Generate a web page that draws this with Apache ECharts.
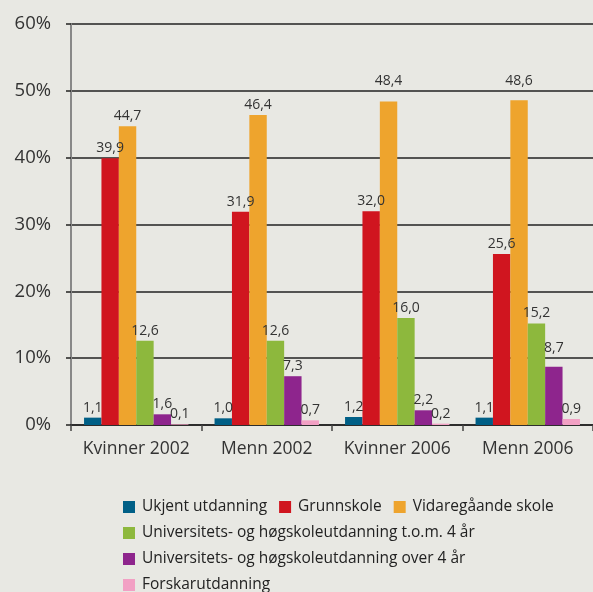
<!DOCTYPE html>
<html>
<head>
<meta charset="utf-8">
<script src="https://cdn.jsdelivr.net/npm/echarts@6/dist/echarts.min.js"></script>
<style>
  html, body { margin: 0; padding: 0; background: #e8e8e3; }
  #chart { width: 593px; height: 592px; }
</style>
</head>
<body>
<div id="chart"></div>
<script>
var categories = ['Kvinner 2002', 'Menn 2002', 'Kvinner 2006', 'Menn 2006']
var seriesNames = [
  'Ukjent utdanning',
  'Grunnskole',
  'Vidaregåande skole',
  'Universitets- og høgskoleutdanning t.o.m. 4 år',
  'Universitets- og høgskoleutdanning over 4 år',
  'Forskarutdanning'
]
var ukjent = [1.1, 1.0, 1.2, 1.1]
var grunnskole = [39.9, 31.9, 32.0, 25.6]
var vidaregaande = [44.7, 46.4, 48.4, 48.6]
var univKort = [12.6, 12.6, 16.0, 15.2]
var univLang = [1.6, 7.3, 2.2, 8.7]
var forskar = [0.1, 0.7, 0.2, 0.9]
var colors = ['#005f86', '#d0151f', '#eea42d', '#8db83d', '#8e258d', '#f2a0c4']

var font = '"Open Sans", sans-serif'
var values = [ukjent, grunnskole, vidaregaande, univKort, univLang, forskar]
var gridHeight = 401
var pxPerUnit = gridHeight / 60

var myChart = echarts.init(document.getElementById('chart'))

// labels that would sit on a gridline get lifted above it
function labelDistance(v) {
  var rest = v % 10
  if (rest >= 8) return (10 - rest) * pxPerUnit + 3
  return 3
}

var series = values.map(function(d, i) {
  return {
    name: seriesNames[i],
    type: 'bar',
    data: d.map(function(v) {
      return { value: v, label: { distance: labelDistance(v) } }
    }),
    barGap: '0%',
    barCategoryGap: '20%',
    itemStyle: { color: colors[i] },
    label: {
      show: true,
      position: 'top',
      color: '#333',
      fontSize: 14,
      fontFamily: font,
      formatter: function(p) { return p.value.toFixed(1).replace('.', ',') }
    }
  }
})

function legendRow(names, top) {
  return {
    data: names,
    left: 123,
    top: top,
    padding: 0,
    orient: 'horizontal',
    itemWidth: 12,
    itemHeight: 12,
    itemGap: 12,
    icon: 'rect',
    selectedMode: false,
    textStyle: { fontSize: 15.5, color: '#222', fontFamily: font, padding: [0, 0, 0, 2] }
  }
}

var option = {
  backgroundColor: '#e8e8e3',
  animation: false,
  grid: { left: 71, top: 24, width: 532, height: gridHeight },
  legend: [
    legendRow(seriesNames.slice(0, 3), 499),
    legendRow([seriesNames[3]], 525),
    legendRow([seriesNames[4]], 551),
    legendRow([seriesNames[5]], 577)
  ],
  xAxis: {
    type: 'category',
    data: categories,
    axisLine: { lineStyle: { color: '#222', width: 1.5 } },
    axisTick: { show: true, length: 6, lineStyle: { color: '#444', width: 1.5 } },
    axisLabel: { interval: 0, fontSize: 17.5, color: '#333', fontFamily: font, margin: 15 }
  },
  yAxis: {
    type: 'value',
    min: 0,
    max: 60,
    interval: 10,
    axisLine: { show: true, lineStyle: { color: '#888', width: 2 } },
    axisTick: { show: true, length: 5, lineStyle: { color: '#222', width: 1.5 } },
    splitLine: { lineStyle: { color: '#222', width: 1.5 } },
    axisLabel: { fontSize: 18.5, color: '#333', fontFamily: font, margin: 20, formatter: '{value}%' }
  },
  series: series
}

myChart.setOption(option)
</script>
</body>
</html>
